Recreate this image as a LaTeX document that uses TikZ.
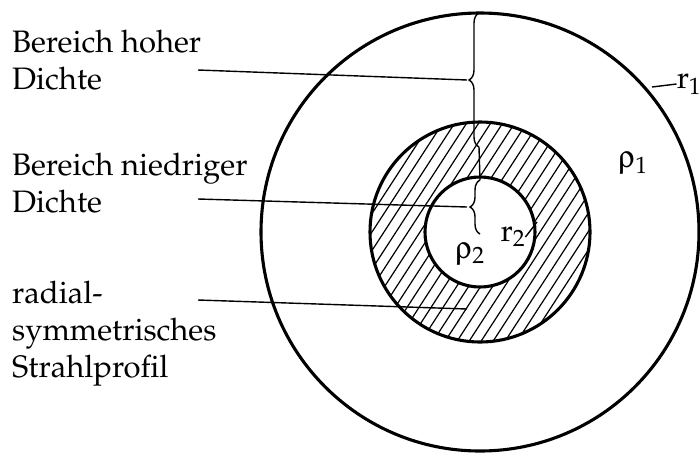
\documentclass[tikz,border=0pt]{standalone}
\usepackage[T1]{fontenc}
\usepackage{mathpazo}
\usepackage[Symbol]{upgreek}
\usetikzlibrary{decorations.pathreplacing,calc}
\begin{document}
\begin{tikzpicture}[x=1pt,y=-1pt,
  lbl/.style={anchor=base west, align=left, inner sep=0pt, font=\fontsize{31}{37}\selectfont},
  sym/.style={inner sep=0pt, font=\fontsize{31}{37}\selectfont},
  ring/.style={line width=3.1pt},
  leader/.style={line width=1.4pt},
  hatch/.style={line width=1.2pt},
  bracestyle/.style={line width=1.4pt, decorate, decoration={brace, amplitude=10pt}}]
\useasboundingbox (0,0) rectangle (700,453);
\coordinate (c) at (480,232);
% hatched ring
\begin{scope}
  \clip (c) circle[radius=110];
  \foreach \i in {-14,...,14} {
    \draw[hatch] ($(c)+(\i*12,0)$) ++(123:160) -- ++(-57:320);
  }
\end{scope}
\fill[white] (c) circle[radius=55];
\draw[ring] (c) circle[radius=219];
\draw[ring] (c) circle[radius=110];
\draw[ring] (c) circle[radius=55];
% braces
\coordinate (b1s) at (479,147);
\coordinate (b1e) at (479,13);
\coordinate (b2s) at (480,234);
\coordinate (b2e) at (480,180);
\draw[bracestyle] (b1s) -- (b1e);
\draw[line width=1.4pt] (b1s) -- (b2e);
\draw[bracestyle] (b2s) -- (b2e);
\coordinate (tip1) at (467,80);
\coordinate (tip2) at (467,207);
\coordinate (tip3) at (467,309);
% labels (anchor = baseline of last line)
\node[lbl] (l1) at (12,89) {Bereich hoher\\Dichte};
\node[lbl] (l2) at (12,212) {Bereich niedriger\\Dichte};
\node[lbl] (l3) at (12,377) {radial-\\symmetrisches\\Strahlprofil};
\coordinate (s1) at (198,70);
\coordinate (s2) at (198,199);
\coordinate (s3) at (198,300);
\draw[leader] (s1) -- (tip1);
\draw[leader] (s2) -- (tip2);
\draw[leader] (s3) -- (tip3);
% symbols
\node[sym] (rho1) at (633,163) {$\uprho_1$};
\node[sym] (rho2) at (470,254) {$\uprho_2$};
\node[sym] (r1) at (689,84) {$\mathrm{r}_1$};
\node[sym] (r2) at (513,237) {$\mathrm{r}_2$};
\coordinate (e1) at (652,87);
\coordinate (e2) at (537,222);
\draw[leader] (e1) -- (r1.west);
\draw[leader] (e2) -- (r2.east);
\end{tikzpicture}
\end{document}
